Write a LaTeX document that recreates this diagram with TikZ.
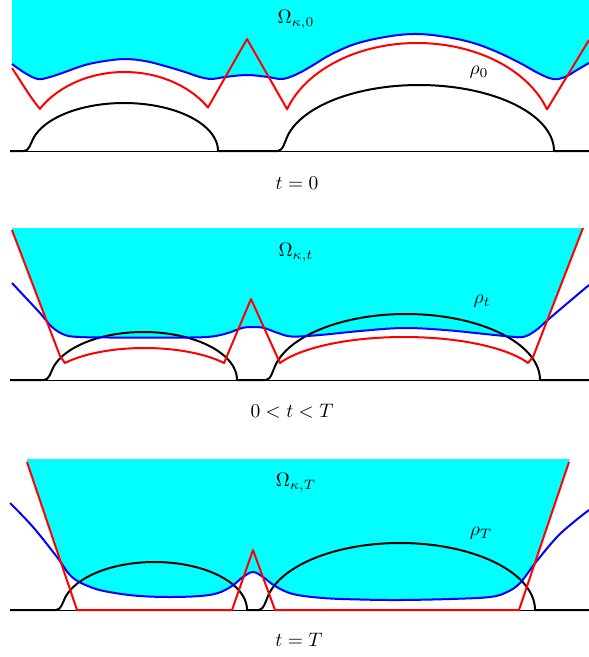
\documentclass[tikz,border=0pt]{standalone}
\definecolor{cyfill}{RGB}{0,255,255}
\definecolor{bluec}{RGB}{0,0,255}
\definecolor{redc}{RGB}{255,0,0}
\begin{document}
\begin{tikzpicture}[x=1pt,y=-1pt,
  curve/.style={line width=2pt, line join=round},
  bl/.style={curve, bluec},
  rd/.style={curve, redc},
  bk/.style={curve, black},
  base/.style={line width=1pt, black},
  lbl/.style={scale=1.95, transform shape, inner sep=0pt},
  sm/.style={smooth, tension=0.6}]
\useasboundingbox (0,0) rectangle (589,657);

% ---------- Panel 1 (t=0) ----------
\fill[cyfill] (12,0) -- plot[sm] coordinates {(12,64) (25,73) (38,79) (50,77) (65,72) (85,65) (105,61) (125,59) (145,61) (165,66) (185,72) (200,77) (212,79) (225,77) (247,75) (268,77) (282,79) (295,75) (310,67) (330,55) (355,44) (385,37) (413,34) (440,36) (470,42) (495,51) (520,63) (538,73) (553,79) (565,77) (577,70) (589,63)} -- (589,0) -- cycle;
\draw[base] (10,151) -- (589,151);
\draw[bk] (10,151) -- (24,151)
  .. controls (29,151) and ({124-0.9918*94},{151-0.1622*48}) .. ({124-0.9659*94},{151-0.2588*48})
  -- plot[domain=15:180, samples=90] ({124-94*cos(\x)},{151-48*sin(\x)})
  -- ({419-135-6},151)
  .. controls ({419-135-1},151) and ({419-0.9918*135},{151-0.1622*66}) .. ({419-0.9659*135},{151-0.2588*66})
  -- plot[domain=15:180, samples=110] ({419-135*cos(\x)},{151-66*sin(\x)})
  -- (589,151);
\draw[bl] plot[sm] coordinates {(12,64) (25,73) (38,79) (50,77) (65,72) (85,65) (105,61) (125,59) (145,61) (165,66) (185,72) (200,77) (212,79) (225,77) (247,75) (268,77) (282,79) (295,75) (310,67) (330,55) (355,44) (385,37) (413,34) (440,36) (470,42) (495,51) (520,63) (538,73) (553,79) (565,77) (577,70) (589,63)};
\draw[rd] (12,68) .. controls (22,83) and (30,97) .. (40,109)
  -- plot[domain=32.3:146.6, samples=70] ({124.5-100*cos(\x)},{151-79*sin(\x)})
  -- (247,39) -- (287,109)
  -- plot[domain=18.4:161.6, samples=90] ({417-137*cos(\x)},{140-97*sin(\x)})
  -- (589,40);
\node[lbl] (om0) at (296,20) {$\Omega_{\kappa,0}$};
\node[lbl] (rho0) at (479,72) {$\rho_0$};
\node[lbl] (t0) at (297,183) {$t=0$};

% ---------- Panel 2 (0<t<T) ----------
\begin{scope}
\clip plot[sm] coordinates {(12,283) (26,298) (40,313) (52,327) (65,335) (80,337) (110,337.5) (150,337.5) (190,337.5) (212,336.5) (228,333) (242,328) (253,327) (264,328) (278,333) (292,336.5) (320,335) (360,331) (403,328) (445,330) (485,334) (510,336.5) (523,337) (535,331) (550,318) (570,301) (589,285)} -- (589,200) -- (12,200) -- cycle;
\fill[cyfill] (12,228) -- (583,228) -- (533,357) -- (528,400) -- (65,400) -- (60,356) -- (12,230) -- cycle;
\end{scope}
\draw[base] (10,380) -- (589,380);
\draw[bk] (10,380) -- ({143.5-93.5-6},380)
  .. controls ({143.5-93.5-1},380) and ({143.5-0.9918*93.5},{380-0.1622*48}) .. ({143.5-0.9659*93.5},{380-0.2588*48})
  -- plot[domain=15:180, samples=90] ({143.5-93.5*cos(\x)},{380-48*sin(\x)})
  -- ({406-134-6},380)
  .. controls ({406-134-1},380) and ({406-0.9918*134},{380-0.1622*66}) .. ({406-0.9659*134},{380-0.2588*66})
  -- plot[domain=15:180, samples=110] ({406-134*cos(\x)},{380-66*sin(\x)})
  -- (589,380);
\draw[bl] plot[sm] coordinates {(12,283) (26,298) (40,313) (52,327) (65,335) (80,337) (110,337.5) (150,337.5) (190,337.5) (212,336.5) (228,333) (242,328) (253,327) (264,328) (278,333) (292,336.5) (320,335) (360,331) (403,328) (445,330) (485,334) (510,336.5) (523,337) (535,331) (550,318) (570,301) (589,285)};
\draw[rd] (12,230) -- (60,356) -- (65,363)
  -- plot[domain=37.3:142.7, samples=60] ({144.5-100*cos(\x)},{386-38*sin(\x)})
  -- (251,299) -- (280,363)
  -- plot[domain=23.3:156.7, samples=80] ({404-135*cos(\x)},{380-43*sin(\x)})
  -- (533,357) -- (583,228);
\node[lbl] (om1) at (296,253) {$\Omega_{\kappa,t}$};
\node[lbl] (rho1) at (482,301) {$\rho_t$};
\node[lbl] (t1) at (292,411) {$0<t<T$};

% ---------- Panel 3 (t=T) ----------
\begin{scope}
\clip plot[sm] coordinates {(10,503) (33,527) (57,557) (72,577) (93,588) (115,593) (140,596) (170,597) (200,596) (218,593) (232,586) (243,577) (253,572) (263,577) (275,586) (293,594) (323,598) (360,599.5) (400,600) (450,599) (490,597) (507,592) (520,583) (536,562) (557,537) (575,521) (589,510)} -- (589,440) -- (10,440) -- cycle;
\fill[cyfill] (27,459) -- (570,459) -- (519,610) -- (77,610) -- (27,462) -- cycle;
\end{scope}
\draw[base] (10,610) -- (589,610);
\draw[bk] (10,610) -- ({154.5-92.5-6},610)
  .. controls ({154.5-92.5-1},610) and ({154.5-0.9918*92.5},{610-0.1622*48}) .. ({154.5-0.9659*92.5},{610-0.2588*48})
  -- plot[domain=15:180, samples=90] ({154.5-92.5*cos(\x)},{610-48*sin(\x)})
  -- ({400-135-6},610)
  .. controls ({400-135-1},610) and ({400-0.9918*135},{610-0.1622*67}) .. ({400-0.9659*135},{610-0.2588*67})
  -- plot[domain=15:180, samples=110] ({400-135*cos(\x)},{610-67*sin(\x)})
  -- (589,610);
\draw[bl] plot[sm] coordinates {(10,503) (33,527) (57,557) (72,577) (93,588) (115,593) (140,596) (170,597) (200,596) (218,593) (232,586) (243,577) (253,572) (263,577) (275,586) (293,594) (323,598) (360,599.5) (400,600) (450,599) (490,597) (507,592) (520,583) (536,562) (557,537) (575,521) (589,510)};
\draw[rd] (27,462) -- (77,610) -- (232,610) -- (253,550) -- (275,610) -- (519,610) -- (569,462);
\node[lbl] (om2) at (296,483) {$\Omega_{\kappa,T}$};
\node[lbl] (rho2) at (481,533) {$\rho_T$};
\node[lbl] (t2) at (299,640) {$t=T$};
\end{tikzpicture}
\end{document}
